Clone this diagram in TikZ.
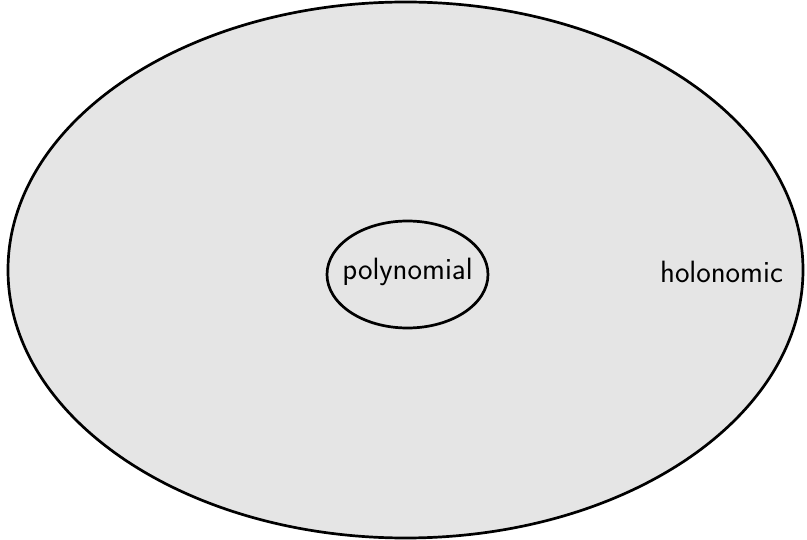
\documentclass[tikz,border=0pt]{standalone}
\usepackage{fontspec}
\begin{document}
\begin{tikzpicture}[x=1pt,y=-1pt,
  setline/.style={draw=black,line width=2.7pt},
  lbl/.style={font=\sffamily\fontsize{30.8}{37}\selectfont,text=black,inner sep=0pt}]
  \useasboundingbox (0,0) rectangle (807,540);
  % outer class: holonomic
  \path[setline,fill=black!10] (405.5,270) ellipse [x radius=397.5,y radius=268];
  % inner class: polynomial
  \path[setline] (407.5,274.5) ellipse [x radius=80.5,y radius=53.5];
  \node[lbl] (poly) at (407.5,272) {polynomial};
  \node[lbl] (holo) at (721.5,272) {holonomic};
\end{tikzpicture}
\end{document}
